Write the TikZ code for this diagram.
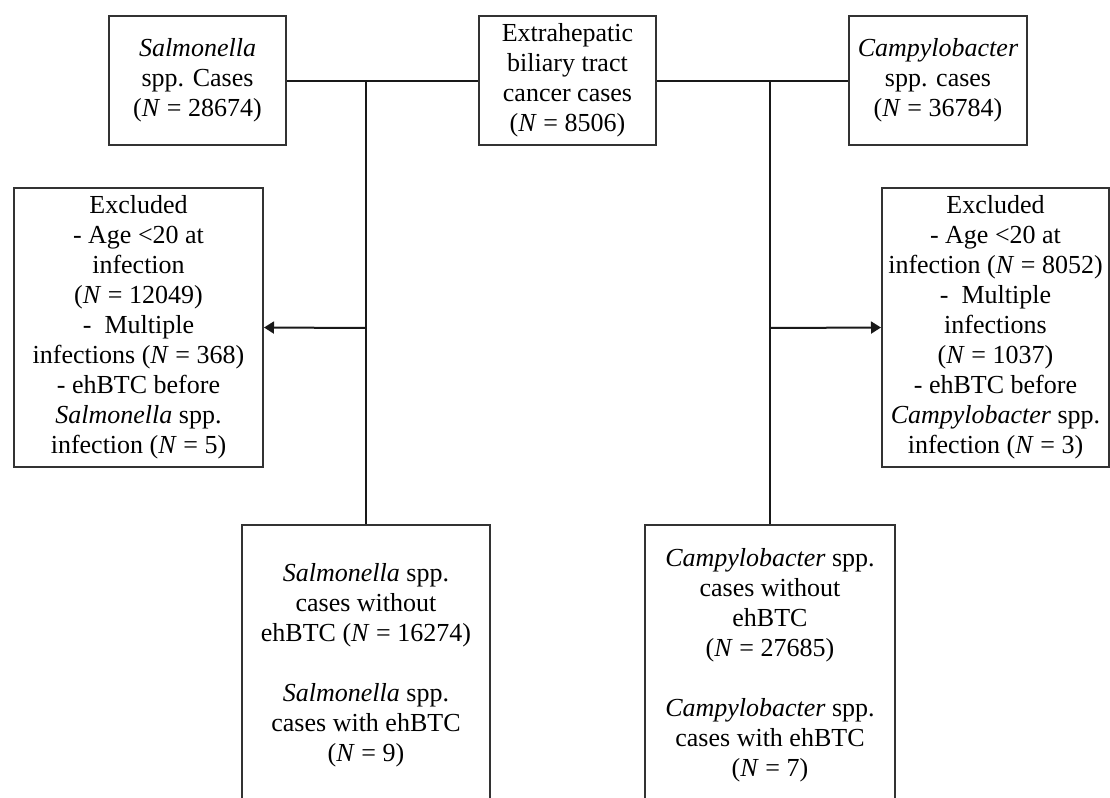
\documentclass[tikz,border=0pt]{standalone}
\usepackage{fontspec}
\setmainfont{Liberation Serif}
\usetikzlibrary{arrows.meta}
\tikzset{
  box/.style={draw=black!80, line width=1pt, fill=white, align=center, inner sep=0pt,
    font=\fontsize{13}{15}\selectfont, text=black},
  conn/.style={draw=black!90, line width=1pt},
  arr/.style={conn, -{Triangle[length=5pt,width=6pt]}}
}
\begin{document}
\begin{tikzpicture}[x=0.5pt,y=-0.5pt]
\useasboundingbox (0,0) rectangle (1110,798);
\clip (0,0) rectangle (1110,798);
\node[box, minimum width=88.5pt, minimum height=64.5pt] (sal) at (197.5,80.5)
  {\textit{Salmonella}\\spp. Cases\\(\textit{N} = 28674)};
\node[box, minimum width=88.5pt, minimum height=64.5pt] (ehb) at (567.5,80.5)
  {Extrahepatic\\biliary tract\\cancer cases\\(\textit{N} = 8506)};
\node[box, minimum width=89pt, minimum height=64.5pt] (cam) at (938,80.5)
  {\textit{Campylobacter}\\spp. cases\\(\textit{N} = 36784)};
\node[box, minimum width=124.5pt, minimum height=139.5pt] (exL) at (138.5,327.5)
  {Excluded\\- Age <20 at\\infection\\(\textit{N} = 12049)\\-~ Multiple\\infections (\textit{N} = 368)\\- ehBTC before\\\textit{Salmonella} spp.\\infection (\textit{N} = 5)};
\node[box, minimum width=113.5pt, minimum height=139.5pt] (exR) at (995.5,327.5)
  {Excluded\\- Age <20 at\\infection (\textit{N} = 8052)\\-~ Multiple\\infections\\(\textit{N} = 1037)\\- ehBTC before\\\textit{Campylobacter} spp.\\infection (\textit{N} = 3)};
\node[box, minimum width=124pt, minimum height=140pt] (botL) at (366,665)
  {\textit{Salmonella} spp.\\cases without\\ehBTC (\textit{N} = 16274)\\[15pt]\textit{Salmonella} spp.\\cases with ehBTC\\(\textit{N} = 9)};
\node[box, minimum width=125pt, minimum height=140pt] (botR) at (770,665)
  {\textit{Campylobacter} spp.\\cases without\\ehBTC\\(\textit{N} = 27685)\\[15pt]\textit{Campylobacter} spp.\\cases with ehBTC\\(\textit{N} = 7)};
\coordinate (jL) at (366,80.5);
\coordinate (jR) at (770,80.5);
\coordinate (aL) at (366,328);
\coordinate (aR) at (770,328);
\draw[conn] (sal.east) -- (ehb.west);
\draw[conn] (ehb.east) -- (cam.west);
\draw[conn] (jL) -- (botL.north);
\draw[conn] (jR) -- (botR.north);
\draw[arr] (aL) -- (exL.east);
\draw[arr] (aR) -- (exR.west);
\end{tikzpicture}
\end{document}
